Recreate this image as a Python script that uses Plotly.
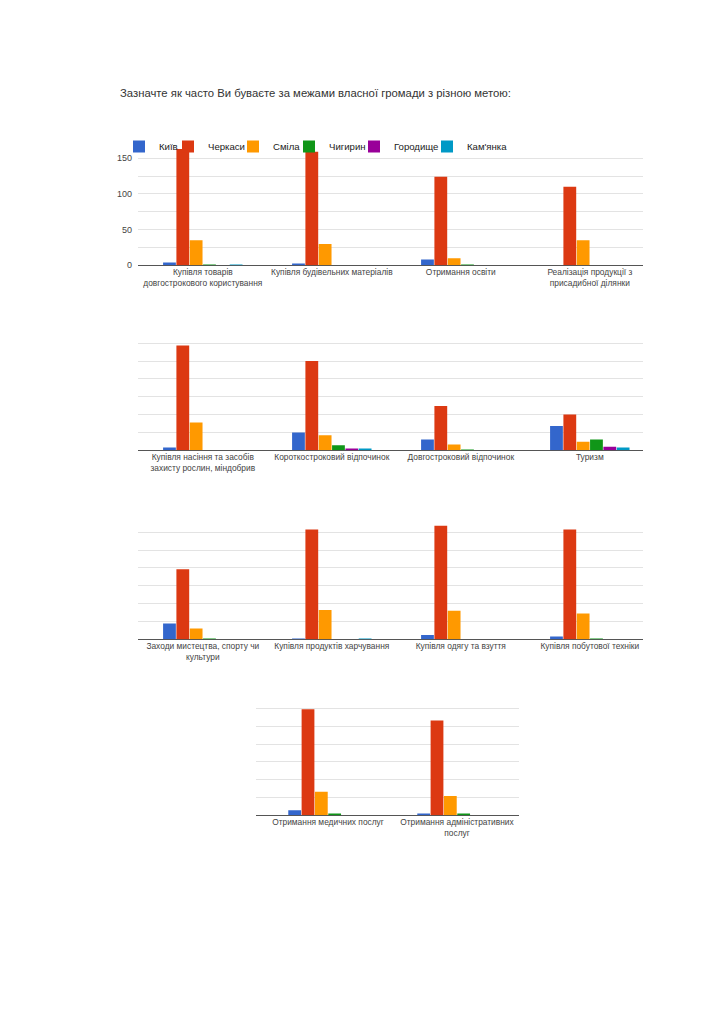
import plotly.graph_objects as go

# ---- data ----
series_names = ["Київ", "Черкаси", "Сміла", "Чигирин", "Городище", "Кам'янка"]
series_colors = ["#3366cc", "#dc3912", "#ff9900", "#109618", "#990099", "#0099c6"]

panel1_cats = ["Купівля товарів<br>довгострокового користування", "Купівля будівельних матеріалів",
               "Отримання освіти", "Реалізація продукції з<br>присадибної ділянки"]
panel2_cats = ["Купівля насіння та засобів<br>захисту рослин, міндобрив", "Короткостроковий відпочинок",
               "Довгостроковий відпочинок", "Туризм"]
panel3_cats = ["Заходи мистецтва, спорту чи<br>культури", "Купівля продуктів харчування",
               "Купівля одягу та взуття", "Купівля побутової техніки"]
panel4_cats = ["Отримання медичних послуг", "Отримання адміністративних<br>послуг"]

kyiv      = [4, 2, 8, 0,   4, 25, 15, 34,   22, 1, 6, 4,   7, 2]
cherkasy  = [163, 159, 124, 110,   147, 125, 62, 50,   98, 154, 159, 154,   149, 133]
smila     = [35, 30, 10, 35,   39, 21, 8, 12,   15, 41, 40, 36,   33, 27]
chyhyryn  = [1, 0, 1, 0,   0, 7, 1, 15,   1, 0, 0, 1,   1, 1]
horodysch = [0, 0, 0, 0,   0, 2, 0, 5,   0, 0, 0, 0,   0, 0]
kamianka  = [1, 0, 0, 0,   0, 2, 0, 4,   0, 1, 0, 0,   0, 0]

series_values = [kyiv, cherkasy, smila, chyhyryn, horodysch, kamianka]
y_tickvals = [0, 25, 50, 75, 100, 125, 150, 175]
y_ticktext = ["0", "", "50", "", "100", "", "150", ""]

title_text = "Зазначте як часто Ви буваєте за межами власної громади з різною метою:"

# ---- figure ----
OFF = 8                 # page body margin
W, H = 724 - 2 * OFF, 1024 - 2 * OFF
panels = [panel1_cats, panel2_cats, panel3_cats, panel4_cats]
starts = [0, 4, 8, 12]

fig = go.Figure()
legend_widths = [4, 20, 11, 20, 28, 50]

for p, cats in enumerate(panels):
    ax = "" if p == 0 else str(p + 1)
    s = starts[p]
    for i, (name, col, vals) in enumerate(zip(series_names, series_colors, series_values)):
        kw = {}
        if p == 0:
            kw["legendwidth"] = legend_widths[i]
        fig.add_trace(go.Bar(
            x=cats, y=vals[s:s + len(cats)], name=name,
            marker=dict(color=col, line=dict(width=0)),
            xaxis="x" + ax, yaxis="y" + ax,
            legendgroup=name, showlegend=(p == 0),
            hovertemplate="%{x}: %{y}<extra>" + name + "</extra>", **kw))


def px_x(v):
    return (v - OFF) / W


def px_y(v):
    return 1 - (v - OFF) / H


# pixel geometry of the panels on the page (left, right, top, bottom)
geom = [
    (138, 643, 140.4, 265.3),
    (138, 643, 325.4, 450.3),
    (138, 643, 514.4, 639.3),
    (256, 519.3, 690.6, 815.3),
]
cat_px = 129.0
first_center = [202.8, 202.8, 202.8, 328.0]

FONT = "Liberation Sans, Arial, sans-serif"
xaxis_font = dict(family=FONT, size=8.4, color="#444444")
yaxis_font = dict(family=FONT, size=9, color="#444444")
layout = {}
for p, (l, r, t, b) in enumerate(geom):
    ax = "" if p == 0 else str(p + 1)
    x0 = -0.5 - ((first_center[p] - cat_px / 2) - l) / cat_px
    x1 = x0 + (r - l) / cat_px
    layout["xaxis" + ax] = dict(
        domain=[px_x(l), px_x(r)], anchor="y" + ax, type="category",
        range=[x0, x1], showgrid=False, zeroline=False, showline=False,
        ticks="", tickangle=0, automargin=False, tickfont=xaxis_font, fixedrange=True)
    layout["yaxis" + ax] = dict(
        domain=[px_y(b), px_y(t)], anchor="x" + ax, range=[0, 175],
        tickvals=y_tickvals, ticktext=y_ticktext, automargin=False,
        showticklabels=(p == 0), tickfont=yaxis_font, ticklabelstandoff=5,
        showgrid=True, gridcolor="#e3e3e3", gridwidth=1,
        zeroline=True, zerolinecolor="#555555", zerolinewidth=1,
        showline=False, ticks="", fixedrange=True)

fig.update_layout(template="none")
fig.update_layout(**layout)
fig.update_layout(
    width=W, height=H, autosize=False,
    margin=dict(l=0, r=0, t=0, b=0, autoexpand=False),
    paper_bgcolor="white", plot_bgcolor="white",
    barmode="group", bargap=0.38, bargroupgap=0.04,
    font=dict(family=FONT, color="#333333"),
    title=dict(text=title_text, x=px_x(120), xanchor="left", y=px_y(93), yanchor="middle",
               font=dict(size=11.3, color="#333333", family=FONT)),
    legend=dict(orientation="h", x=px_x(119), xanchor="left", y=px_y(132), yanchor="top",
                bgcolor="rgba(0,0,0,0)", font=dict(size=9.6, color="#222222", family=FONT),
                itemwidth=30, itemclick=False, itemdoubleclick=False, traceorder="normal"),
)

fig.write_html("out.html")
